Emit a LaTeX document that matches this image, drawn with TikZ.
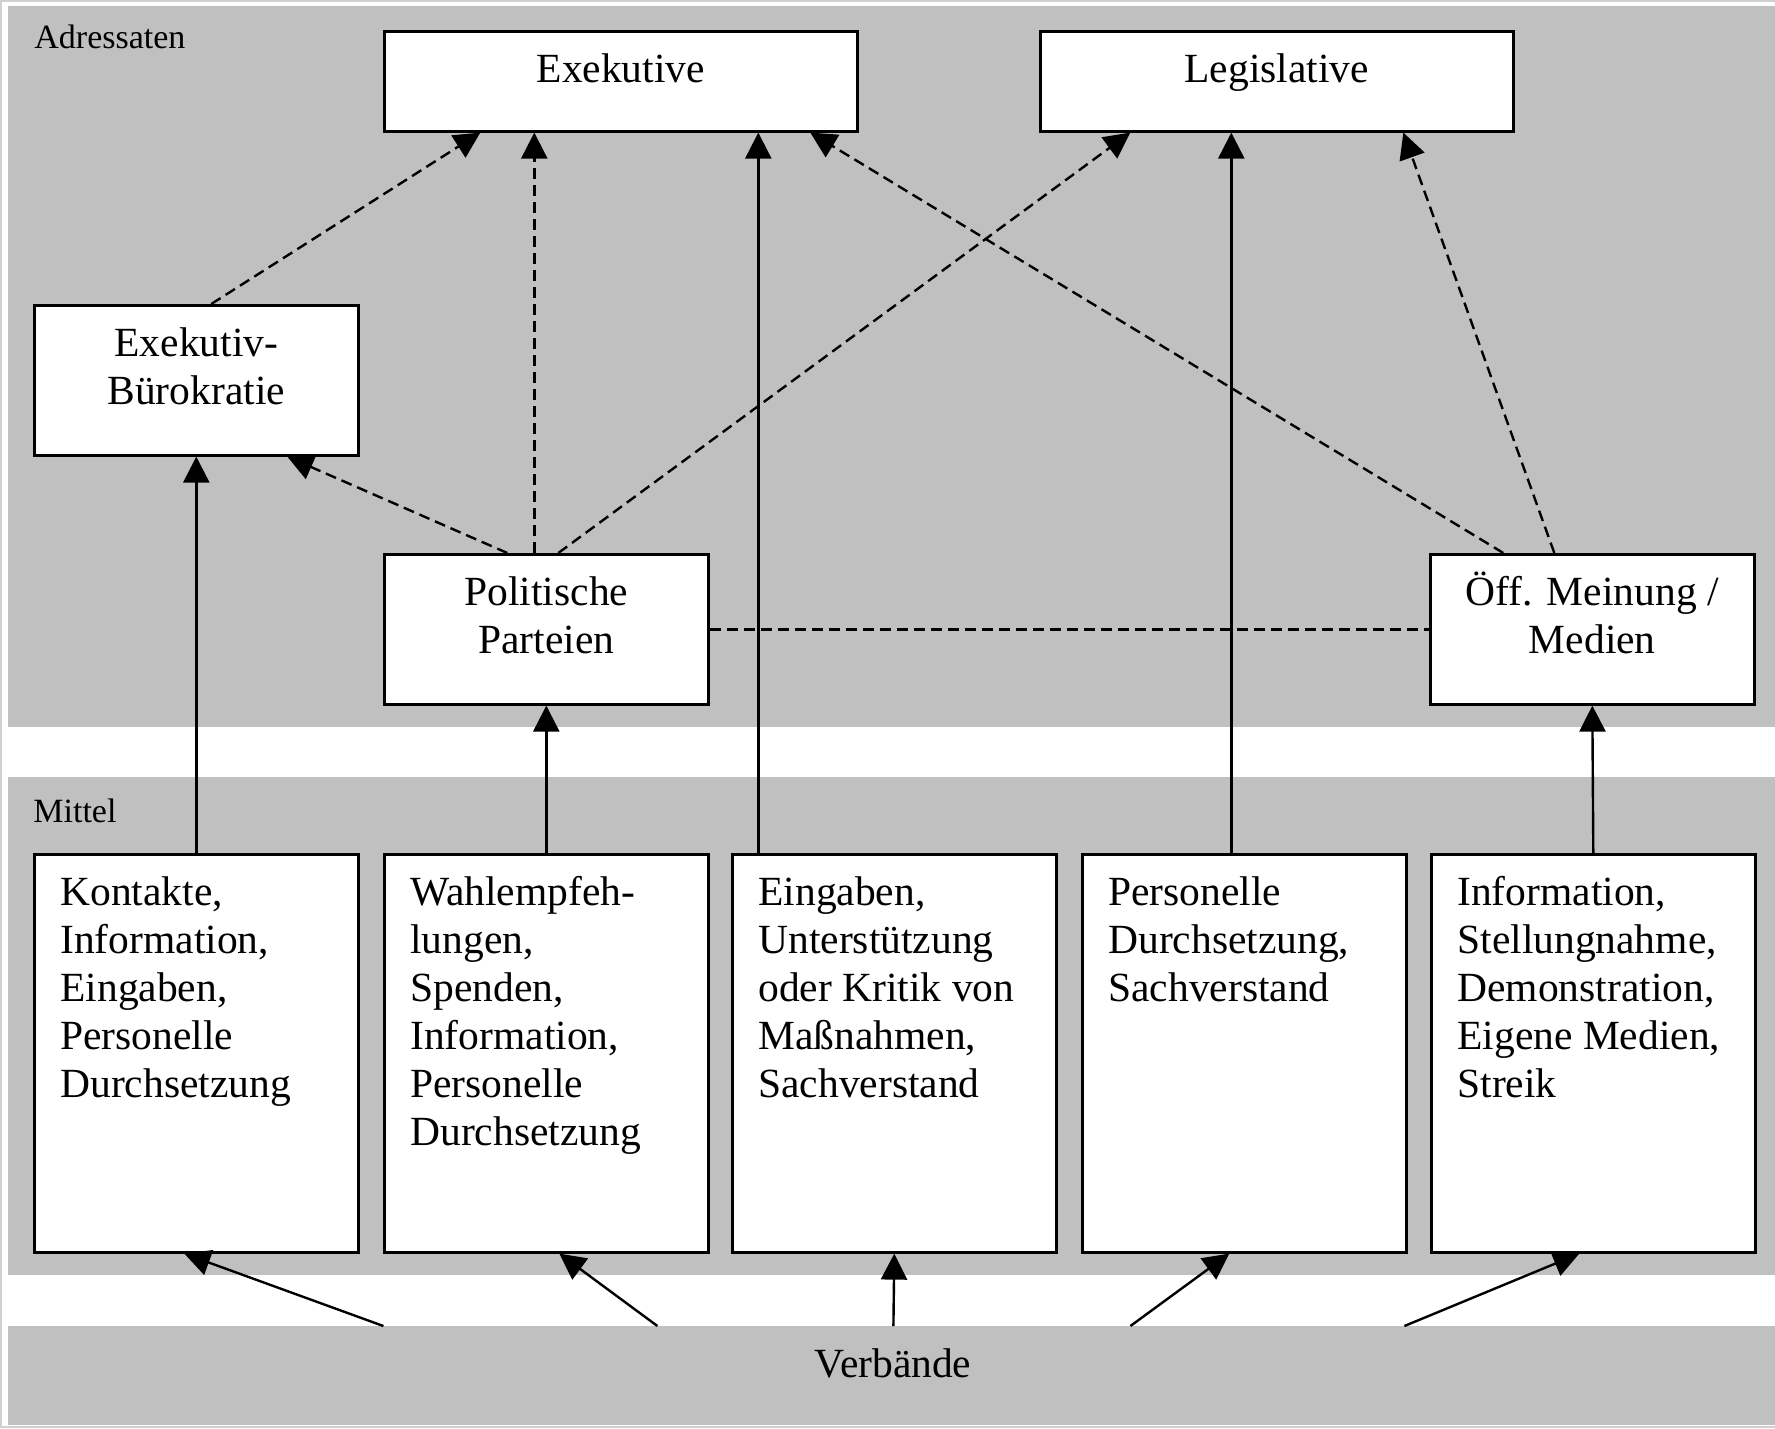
\documentclass[tikz,border=0pt]{standalone}
\usepackage{fontspec}
\setmainfont{Liberation Serif}
\usetikzlibrary{arrows.meta}
\definecolor{bandgray}{HTML}{C0C0C0}
\definecolor{framegray}{HTML}{D0D0D0}
\newcommand{\firststrut}{\rule{0pt}{20pt}}
\begin{document}
\begin{tikzpicture}[x=0.5pt,y=-0.5pt,
  band/.style={fill=bandgray, draw=none, inner sep=0pt, anchor=north west},
  boxnode/.style={draw, fill=white, line width=1.3pt, inner sep=0pt, anchor=north west},
  ctext/.style={font=\fontsize{20.75pt}{24pt}\selectfont, align=center, anchor=north, inner sep=0pt},
  ltext/.style={font=\fontsize{20.75pt}{24pt}\selectfont, align=left, anchor=north west, inner sep=0pt},
  smalllabel/.style={font=\fontsize{17pt}{20pt}\selectfont, anchor=base west, inner sep=0pt},
  conn/.style={line width=1.2pt, -{Triangle[length=13pt,width=13pt]}},
  dconn/.style={conn, dash pattern=on 5.5pt off 3pt},
  dline/.style={line width=1.2pt, dash pattern=on 5.5pt off 3pt}]
\useasboundingbox (0,0) rectangle (1775,1428);
% frame
\draw[framegray, line width=1pt] (1775,1) -- (1,1) -- (1,1427) -- (1775,1427);
% bands
\node[band, minimum width=883.5pt, minimum height=360.5pt] (adr) at (8,6) {};
\node[band, minimum width=883.5pt, minimum height=249pt] (mit) at (8,777) {};
\node[band, minimum width=883.5pt, minimum height=49.5pt] (verb) at (8,1326) {};
\node[smalllabel] (adrlabel) at (34,49) {Adressaten};
\node[smalllabel] (mitlabel) at (33,822) {Mittel};
\node[anchor=base, inner sep=0pt, font=\fontsize{20.75pt}{24pt}\selectfont] (verbtxt) at (893,1377) {Verbände};
% boxes
\node[boxnode, minimum width=236.5pt, minimum height=50pt] (exe) at (383,30) {};
\node[boxnode, minimum width=236.5pt, minimum height=50pt] (leg) at (1039,30) {};
\node[boxnode, minimum width=162pt, minimum height=75pt] (bur) at (33,304) {};
\node[boxnode, minimum width=162pt, minimum height=75pt] (par) at (383,553) {};
\node[boxnode, minimum width=162pt, minimum height=75pt] (oef) at (1429,553) {};
\node[boxnode, minimum width=162pt, minimum height=199pt] (k1) at (33,853) {};
\node[boxnode, minimum width=162pt, minimum height=199pt] (k2) at (383,853) {};
\node[boxnode, minimum width=162pt, minimum height=199pt] (k3) at (731,853) {};
\node[boxnode, minimum width=162pt, minimum height=199pt] (k4) at (1081,853) {};
\node[boxnode, minimum width=162pt, minimum height=199pt] (k5) at (1430,853) {};
% texts
\node[ctext] (exet) at ([yshift=-6pt]exe.north) {\firststrut Exekutive};
\node[ctext] (legt) at ([yshift=-6pt]leg.north) {\firststrut Legislative};
\node[ctext] (burt) at ([yshift=-6pt]bur.north) {\firststrut Exekutiv-\\Bürokratie};
\node[ctext] (part) at ([yshift=-6pt]par.north) {\firststrut Politische\\Parteien};
\node[ctext] (oeft) at ([yshift=-6pt]oef.north) {\firststrut Öff. Meinung /\\Medien};
\node[ltext] (k1t) at ([xshift=13.5pt,yshift=-6pt]k1.north west) {\firststrut Kontakte,\\Information,\\Eingaben,\\Personelle\\Durchsetzung};
\node[ltext] (k2t) at ([xshift=13.5pt,yshift=-6pt]k2.north west) {\firststrut Wahlempfeh-\\lungen,\\Spenden,\\Information,\\Personelle\\Durchsetzung};
\node[ltext] (k3t) at ([xshift=13.5pt,yshift=-6pt]k3.north west) {\firststrut Eingaben,\\Unterstützung\\oder Kritik von\\Maßnahmen,\\Sachverstand};
\node[ltext] (k4t) at ([xshift=13.5pt,yshift=-6pt]k4.north west) {\firststrut Personelle\\Durchsetzung,\\Sachverstand};
\node[ltext] (k5t) at ([xshift=13.5pt,yshift=-6pt]k5.north west) {\firststrut Information,\\Stellungnahme,\\Demonstration,\\Eigene Medien,\\Streik};
% connectors to Exekutive
\draw[dconn] ([xshift=7.5pt]bur.north) -- ([xshift=-70.25pt]exe.south);
\draw[dconn] ([xshift=-6pt]par.north) -- ([xshift=-43.25pt]exe.south);
\draw[conn] ([xshift=-68pt]k3.north) -- ([xshift=68.75pt]exe.south);
\draw[dconn] ([xshift=-44.5pt]oef.north) -- ([xshift=94.75pt]exe.south);
% connectors to Legislative
\draw[dconn] ([xshift=6pt]par.north) -- ([xshift=-73.25pt]leg.south);
\draw[conn] ([xshift=-6.5pt]k4.north) -- ([xshift=-22.75pt]leg.south);
\draw[dconn] ([xshift=-19pt]oef.north) -- ([xshift=63.25pt]leg.south);
% connectors to Buerokratie, Parteien, Medien
\draw[dconn] ([xshift=-19.5pt]par.north) -- ([xshift=45.5pt]bur.south);
\draw[conn] (k1.north) -- (bur.south);
\draw[conn] (k2.north) -- (par.south);
\draw[conn] (k5.north) -- (oef.south);
\draw[dline] (par.east) -- (oef.west);
% Verbaende to Mittel
\draw[conn] ([xshift=-254.25pt]verb.north) -- ([xshift=-6pt]k1.south);
\draw[conn] ([xshift=-117.25pt]verb.north) -- ([xshift=6.5pt]k2.south);
\draw[conn] ([xshift=0.75pt]verb.north) -- (k3.south);
\draw[conn] ([xshift=119.25pt]verb.north) -- ([xshift=-7.5pt]k4.south);
\draw[conn] ([xshift=256.25pt]verb.north) -- ([xshift=-7pt]k5.south);
\end{tikzpicture}
\end{document}
